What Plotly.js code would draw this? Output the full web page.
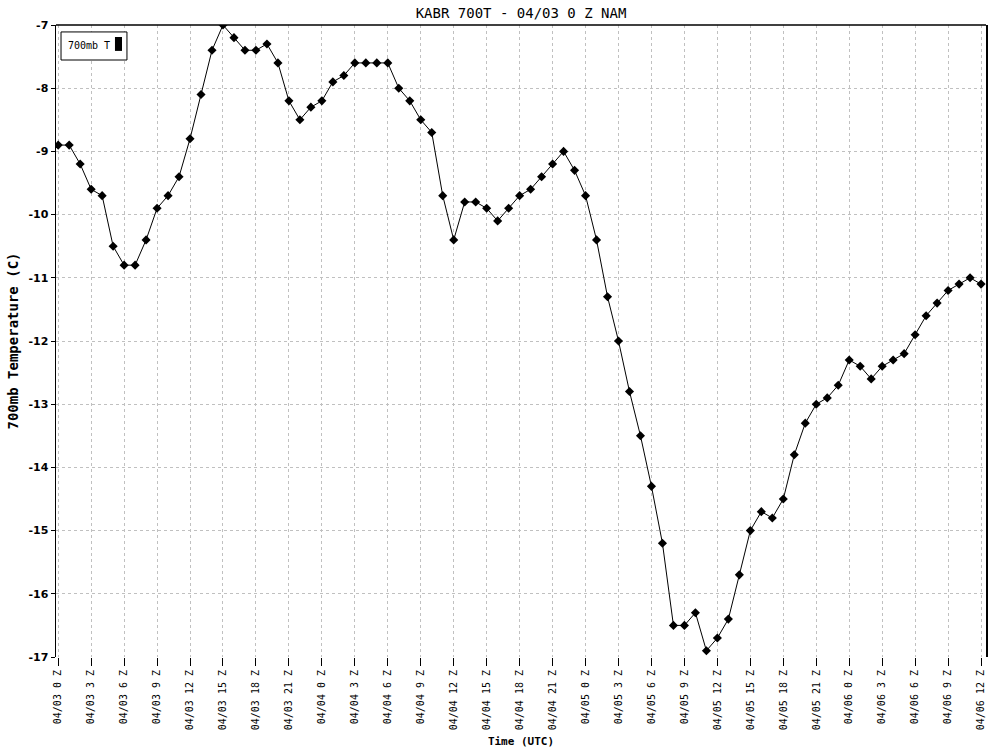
<!DOCTYPE html>
<html>
<head>
<meta charset="utf-8">
<script src="https://cdn.plot.ly/plotly-3.0.1.min.js"></script>
<style>
  html, body { margin: 0; padding: 0; background: #ffffff; }
  #chart { width: 1000px; height: 750px; }
</style>
</head>
<body>
<div id="chart"></div>
<script>
// Forecast hour (hours after 04/03 0Z)
const hours = [
  0,1,2,3,4,5,6,7,8,9,10,11,12,13,14,15,16,17,18,19,20,21,22,23,24,
  25,26,27,28,29,30,31,32,33,34,35,36,37,38,39,40,41,42,43,44,45,46,47,48,
  49,50,51,52,53,54,55,56,57,58,59,60,61,62,63,64,65,66,67,68,69,70,71,72,
  73,74,75,76,77,78,79,80,81,82,83,84
];
// 700mb temperature (C)
const temp700 = [
  -8.9,-8.9,-9.2,-9.6,-9.7,-10.5,-10.8,-10.8,-10.4,-9.9,-9.7,-9.4,-8.8,-8.1,-7.4,-7.0,
  -7.2,-7.4,-7.4,-7.3,-7.6,-8.2,-8.5,-8.3,-8.2,
  -7.9,-7.8,-7.6,-7.6,-7.6,-7.6,-8.0,-8.2,-8.5,-8.7,-9.7,-10.4,-9.8,-9.8,-9.9,-10.1,
  -9.9,-9.7,-9.6,-9.4,-9.2,-9.0,-9.3,-9.7,
  -10.4,-11.3,-12.0,-12.8,-13.5,-14.3,-15.2,-16.5,-16.5,-16.3,-16.9,-16.7,-16.4,-15.7,
  -15.0,-14.7,-14.8,-14.5,-13.8,-13.3,-13.0,-12.9,-12.7,-12.3,
  -12.4,-12.6,-12.4,-12.3,-12.2,-11.9,-11.6,-11.4,-11.2,-11.1,-11.0,-11.1
];
// X tick positions and labels
const xTickVals = [0,3,6,9,12,15,18,21,24,27,30,33,36,39,42,45,48,51,54,57,60,63,66,69,72,75,78,81,84];
const xTickText = [
  "04/03 0 Z","04/03 3 Z","04/03 6 Z","04/03 9 Z","04/03 12 Z","04/03 15 Z","04/03 18 Z","04/03 21 Z",
  "04/04 0 Z","04/04 3 Z","04/04 6 Z","04/04 9 Z","04/04 12 Z","04/04 15 Z","04/04 18 Z","04/04 21 Z",
  "04/05 0 Z","04/05 3 Z","04/05 6 Z","04/05 9 Z","04/05 12 Z","04/05 15 Z","04/05 18 Z","04/05 21 Z",
  "04/06 0 Z","04/06 3 Z","04/06 6 Z","04/06 9 Z","04/06 12 Z"
];
const yTickVals = [-17,-16,-15,-14,-13,-12,-11,-10,-9,-8,-7];
const yTickText = ["-17","-16","-15","-14","-13","-12","-11","-10","-9","-8","-7"];

const mono = "DejaVu Sans Mono, Liberation Mono, monospace";

const trace = {
  x: hours,
  y: temp700,
  type: "scatter",
  mode: "lines+markers",
  name: "700mb T",
  line: { color: "#000000", width: 1 },
  marker: { symbol: "diamond", size: 7, color: "#000000" },
  showlegend: false,
  hoverinfo: "x+y"
};

const layout = {
  width: 1000,
  height: 750,
  margin: { l: 56, r: 14, t: 25, b: 93, pad: 0 },
  paper_bgcolor: "#ffffff",
  plot_bgcolor: "#ffffff",
  font: { family: mono, color: "#000000", size: 12 },
  title: {
    text: "KABR 700T - 04/03 0 Z NAM",
    font: { family: mono, size: 14, color: "#000000" },
    x: 0.5, xref: "paper", xanchor: "center",
    y: 0.983, yref: "container", yanchor: "middle"
  },
  xaxis: {
    range: [-0.2, 84.45],
    tickmode: "array",
    tickvals: xTickVals,
    ticktext: xTickText,
    tickangle: -90,
    tickfont: { family: mono, size: 10, color: "#000000" },
    ticks: "outside",
    ticklen: 8,
    tickcolor: "#000000",
    tickwidth: 1,
    showline: false,
    zeroline: false,
    showgrid: true,
    gridcolor: "#c0c0c0",
    gridwidth: 1,
    griddash: "3px,3px",
    automargin: false,
    title: {
      text: "Time (UTC)",
      font: { family: mono, size: 11, color: "#000000", weight: "bold" },
      standoff: 8
    }
  },
  yaxis: {
    range: [-17, -7],
    tickmode: "array",
    tickvals: yTickVals,
    ticktext: yTickText,
    tickfont: { family: "DejaVu Sans, sans-serif", size: 11, color: "#000000", weight: "bold" },
    ticks: "outside",
    ticklen: 4,
    tickcolor: "#000000",
    tickwidth: 1,
    showline: true,
    linecolor: "#000000",
    linewidth: 1.5,
    mirror: true,
    zeroline: false,
    showgrid: true,
    gridcolor: "#c0c0c0",
    gridwidth: 1,
    griddash: "3px,3px",
    automargin: false,
    title: {
      text: "700mb Temperature (C)",
      font: { family: mono, size: 14, color: "#000000", weight: "bold" },
      standoff: 6
    }
  },
  shapes: [
    { type: "line", xref: "paper", yref: "paper", x0: 0, x1: 1, y0: 1, y1: 1,
      line: { color: "#000000", width: 1.5 } },
    { type: "rect", xref: "paper", yref: "paper", x0: 0.0054, x1: 0.0763, y0: 0.9446, y1: 0.989,
      line: { color: "#000000", width: 1 }, fillcolor: "#ffffff" },
    { type: "rect", xref: "paper", yref: "paper", x0: 0.0634, x1: 0.0710, y0: 0.959, y1: 0.981,
      line: { color: "#000000", width: 0 }, fillcolor: "#000000" }
  ],
  annotations: [
    { xref: "paper", yref: "paper", x: 0.0108, y: 0.967, xanchor: "left", yanchor: "middle",
      text: "700mb T", showarrow: false,
      font: { family: mono, size: 10, color: "#000000" } }
  ]
};

Plotly.newPlot("chart", [trace], layout, { displayModeBar: false, staticPlot: true });
</script>
</body>
</html>
